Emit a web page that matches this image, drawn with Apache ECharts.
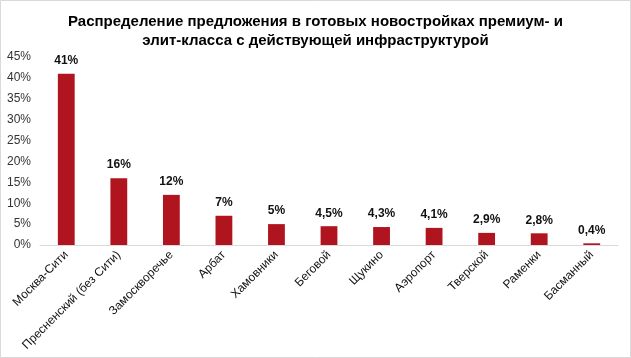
<!DOCTYPE html>
<html><head><meta charset="utf-8">
<script src="https://cdn.jsdelivr.net/npm/echarts@6/dist/echarts.min.js"></script>
<style>html,body{margin:0;padding:0;background:#fff}#c{width:631px;height:358px}</style>
</head><body><div id="c"></div>
<script>
const categories = ['Москва-Сити','Пресненский (без Сити)','Замоскворечье','Арбат','Хамовники','Беговой','Щукино','Аэропорт','Тверской','Раменки','Басманный'];
const values = [41, 16, 12, 7, 5, 4.5, 4.3, 4.1, 2.9, 2.8, 0.4];
const valueLabels = ['41%','16%','12%','7%','5%','4,5%','4,3%','4,1%','2,9%','2,8%','0,4%'];
const titleText = 'Распределение предложения в готовых новостройках премиум- и\nэлит-класса с действующей инфраструктурой';

const chart = echarts.init(document.getElementById('c'), null, {renderer:'canvas'});
chart.setOption({
  animation:false,
  backgroundColor:'#fff',
  title:{text:titleText,left:'center',top:7,textStyle:{fontFamily:'Liberation Sans, Arial',fontSize:15,fontWeight:'bold',color:'#000',lineHeight:19}},
  grid:{left:40,right:13,top:57,bottom:113,containLabel:false},
  xAxis:{type:'category',data:categories,
    axisLine:{lineStyle:{color:'#d9d9d9'}},axisTick:{show:false},
    axisLabel:{rotate:45,interval:0,margin:8,fontFamily:'Liberation Sans, Arial',fontSize:12,color:'#111'}},
  yAxis:{type:'value',min:0,max:45,interval:5,
    axisLine:{show:false},axisTick:{show:false},splitLine:{show:false},
    axisLabel:{formatter:v=>v+'%',margin:9,fontFamily:'Liberation Sans, Arial',fontSize:12,color:'#333'}},
  series:[{type:'bar',data:values,barWidth:'32%',itemStyle:{color:'#B0151F'},
    label:{show:true,position:'top',distance:7,formatter:p=>valueLabels[p.dataIndex],fontFamily:'Liberation Sans, Arial',fontSize:12,fontWeight:'bold',color:'#111'}}],
  graphic:[{type:'rect',shape:{x:0.5,y:0.5,width:630,height:357},style:{fill:'none',stroke:'#d9d9d9',lineWidth:1}}]
});
</script></body></html>
